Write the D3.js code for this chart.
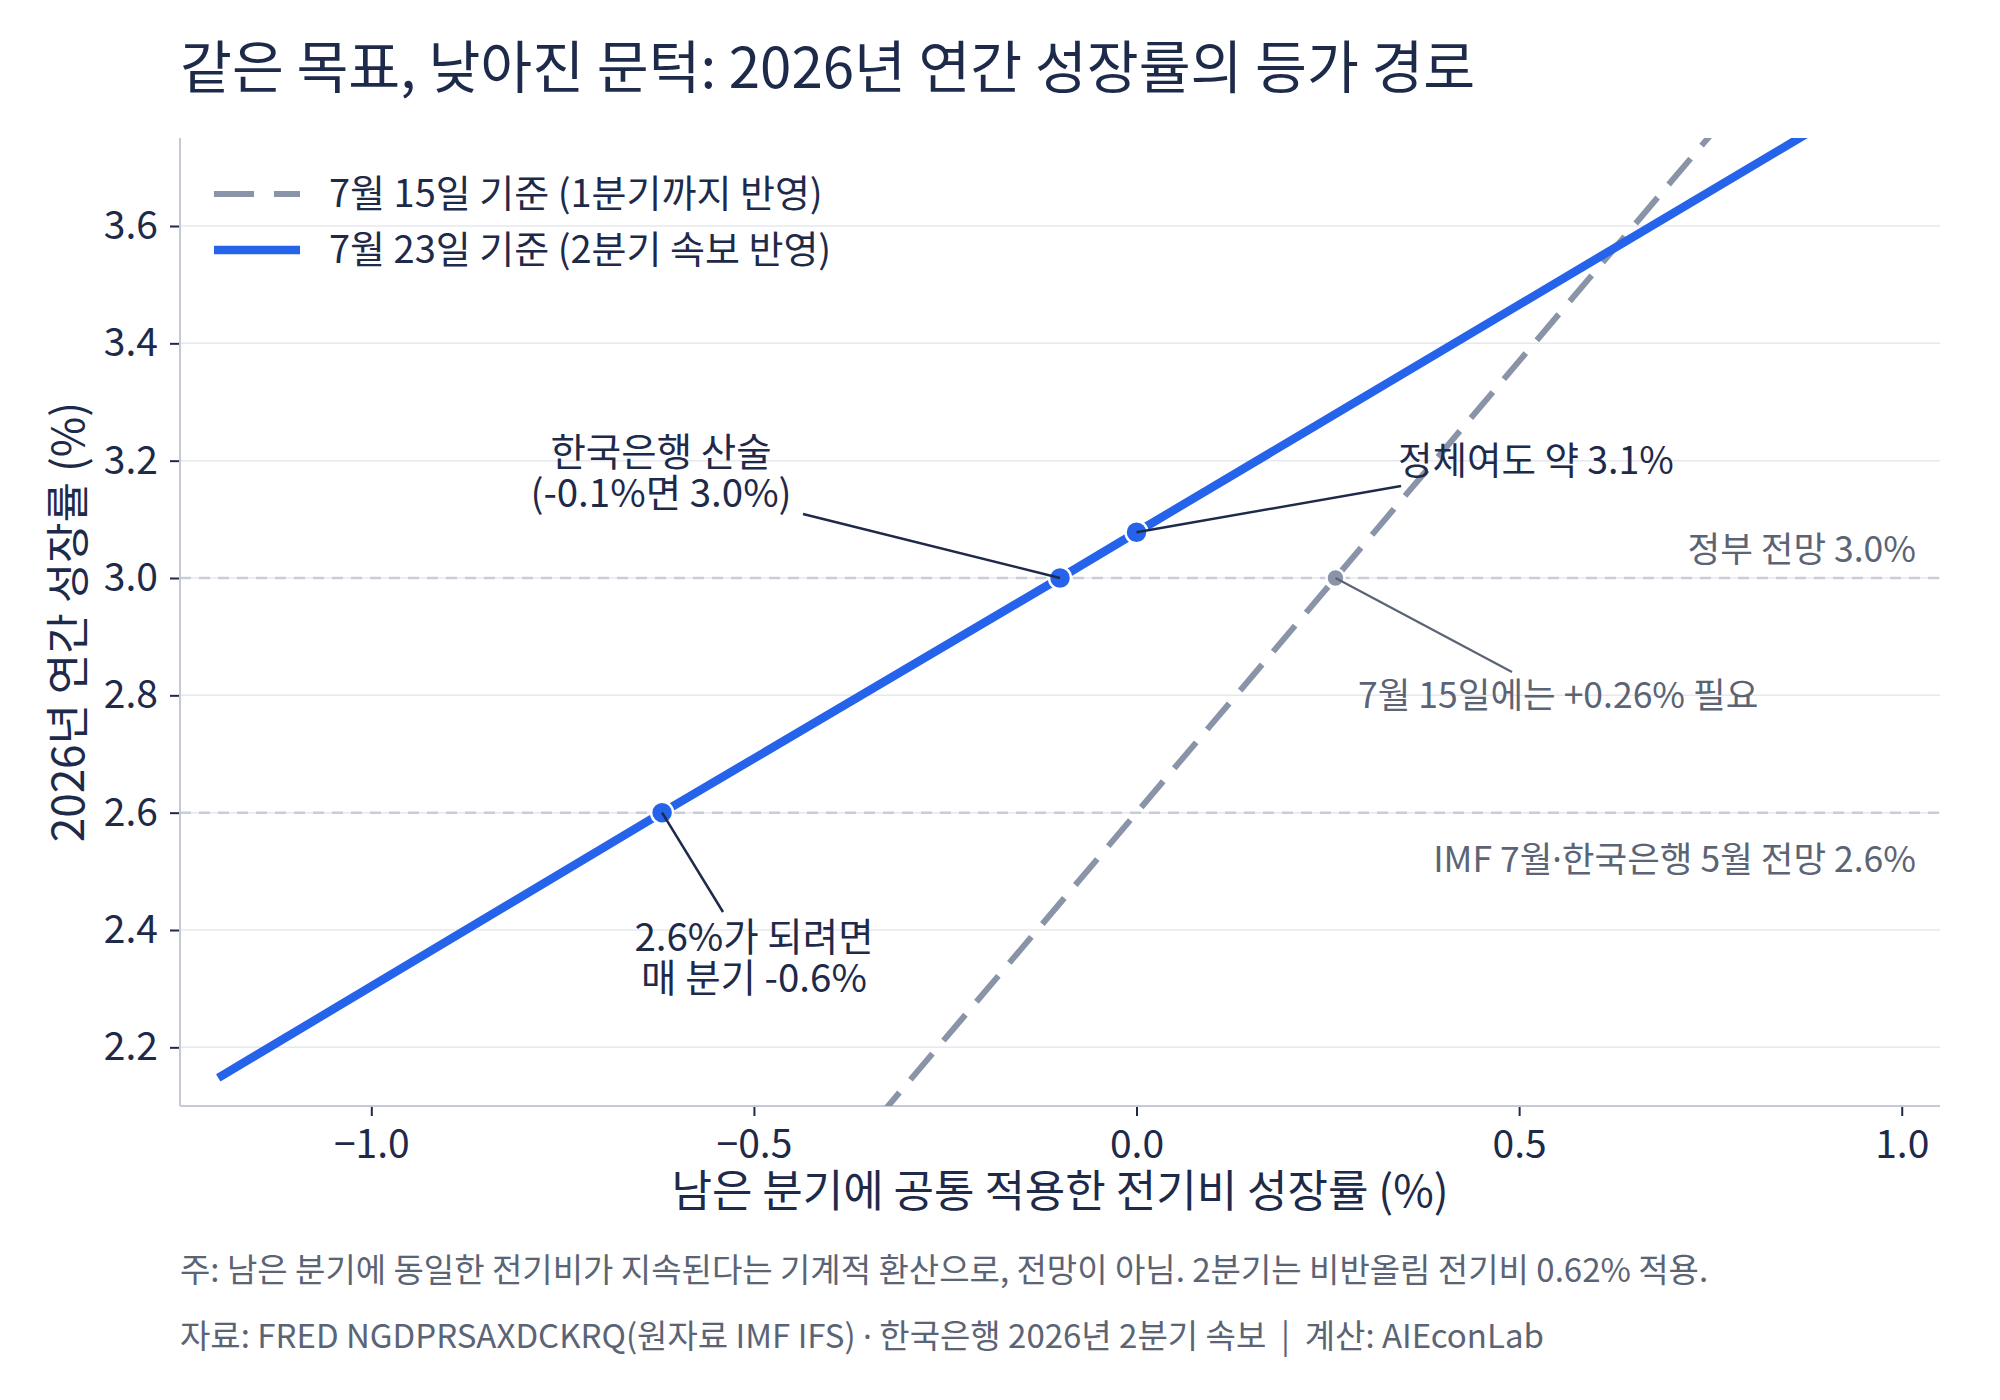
<!DOCTYPE html>
<html><head><meta charset="utf-8">
<script src="https://cdn.jsdelivr.net/npm/d3@7"></script>
<style>body{margin:0;background:#fff} text{white-space:pre}</style></head>
<body>
<svg id="c" width="2000" height="1400"></svg>
<script>
// ---- data ----
const xTicks = [-1.0, -0.5, 0.0, 0.5, 1.0];
const yTicks = [2.2, 2.4, 2.6, 2.8, 3.0, 3.2, 3.4, 3.6];
// 7월 23일 기준 (2분기 속보 반영)
const afterX = [-1.2, -0.62, -0.1, 0.0, 0.9];
const afterY = [2.148, 2.6, 3.0, 3.078, 3.776];
// 7월 15일 기준 (1분기까지 반영)
const beforeX = [-1.2, -0.324, 0.26, 0.9];
const beforeY = [0.752, 2.101, 3.0, 3.986];
// 주요 점
const keyX = [-0.62, -0.1, 0.0];
const keyY = [2.6, 3.0, 3.078];
const grayKeyX = [0.26];
const grayKeyY = [3.0];
// 기준선
const refValues = [3.0, 2.6];
const refLabels = [["정부 전망 3.0%"], ["IMF 7월", "·", "한국은행 5월 전망 2.6%"]];
const seriesLabels = ["7월 15일 기준 (1분기까지 반영)", "7월 23일 기준 (2분기 속보 반영)"];

const FONT = "'Noto Sans CJK KR', 'Noto Sans', sans-serif";
const DOTFONT = "'Noto Sans', 'DejaVu Sans', sans-serif";
const NAVY = "#1e2a4a", GRAYTXT = "#5b6475", BLUE = "#2563eb", SLATE = "#8a94a8";

const svg = d3.select("#c").style("font-family", FONT);
const L = 180, R = 1940, T = 138, B = 1106;
const x = d3.scaleLinear([-1.25, 1.05], [L, R]);
const y = d3.scaleLinear([2.1, 3.75], [B, T]);

svg.append("defs").append("clipPath").attr("id", "clip")
  .append("rect").attr("x", L).attr("y", T).attr("width", R - L).attr("height", B - T);

// grid
svg.append("g").selectAll("line").data(yTicks).join("line")
  .attr("x1", L).attr("x2", R).attr("y1", d => y(d)).attr("y2", d => y(d))
  .attr("stroke", "#e6e8ee").attr("stroke-width", 1.5);

// reference lines
svg.append("g").selectAll("line").data(refValues).join("line")
  .attr("x1", L).attr("x2", R).attr("y1", d => y(d)).attr("y2", d => y(d))
  .attr("stroke", "#c9cdd8").attr("stroke-width", 2.5).attr("stroke-dasharray", "11,8");

// axes
const yAxis = d3.axisLeft(y).tickValues(yTicks).tickFormat(d3.format(".1f")).tickSize(10).tickPadding(12);
const gy = svg.append("g").attr("transform", `translate(${L},0)`).call(yAxis);
const xAxis = d3.axisBottom(x).tickValues(xTicks).tickFormat(d => d3.format(".1f")(d).replace("-", "−")).tickSize(10).tickPadding(14);
const gx = svg.append("g").attr("transform", `translate(0,${B})`).call(xAxis);
[gx, gy].forEach(g => {
  g.select(".domain").remove();
  g.selectAll(".tick line").attr("stroke", NAVY).attr("stroke-width", 2);
  g.selectAll(".tick text").attr("fill", NAVY).style("font-size", "39px").style("font-family", FONT);
});
// spines
svg.append("line").attr("x1", L).attr("x2", L).attr("y1", T).attr("y2", B).attr("stroke", "#c5cad4").attr("stroke-width", 2);
svg.append("line").attr("x1", L).attr("x2", R).attr("y1", B).attr("y2", B).attr("stroke", "#c5cad4").attr("stroke-width", 2);

// series
const plot = svg.append("g").attr("clip-path", "url(#clip)");
const line = d3.line().x(d => x(d[0])).y(d => y(d[1]));
plot.append("path").datum(d3.zip(beforeX, beforeY)).attr("d", line)
  .attr("fill", "none").attr("stroke", SLATE).attr("stroke-width", 6).attr("stroke-dasharray", "34,17");
plot.append("path").datum(d3.zip(afterX, afterY)).attr("d", line)
  .attr("fill", "none").attr("stroke", BLUE).attr("stroke-width", 8.5).attr("stroke-linecap", "butt");

// ref labels
svg.append("g").selectAll("text").data(refValues).join("text")
  .attr("x", 1916).attr("y", (d, i) => i === 0 ? y(d) - 16 : y(d) + 59)
  .attr("text-anchor", "end").attr("fill", GRAYTXT).style("font-size", "35.5px")
  .each(function (d, i) {
    refLabels[i].forEach(s => d3.select(this).append("tspan")
      .style("font-family", s === "·" ? DOTFONT : FONT).text(s));
  });

// annotation leader lines
const ann = svg.append("g");
ann.append("line").attr("x1", 803).attr("y1", 514).attr("x2", x(keyX[1])).attr("y2", y(keyY[1])).attr("stroke", NAVY).attr("stroke-width", 2.5);
ann.append("line").attr("x1", 1401).attr("y1", 486).attr("x2", x(keyX[2])).attr("y2", y(keyY[2])).attr("stroke", NAVY).attr("stroke-width", 2.5);
ann.append("line").attr("x1", 723).attr("y1", 912).attr("x2", x(keyX[0])).attr("y2", y(keyY[0])).attr("stroke", NAVY).attr("stroke-width", 2.5);
ann.append("line").attr("x1", 1512).attr("y1", 672).attr("x2", x(grayKeyX[0])).attr("y2", y(grayKeyY[0])).attr("stroke", GRAYTXT).attr("stroke-width", 2.2);

// points
svg.append("g").selectAll("circle").data(d3.zip(keyX, keyY)).join("circle")
  .attr("cx", d => x(d[0])).attr("cy", d => y(d[1])).attr("r", 11)
  .attr("fill", BLUE).attr("stroke", "#fff").attr("stroke-width", 2.5);
svg.append("g").selectAll("circle").data(d3.zip(grayKeyX, grayKeyY)).join("circle")
  .attr("cx", d => x(d[0])).attr("cy", d => y(d[1])).attr("r", 9)
  .attr("fill", SLATE).attr("stroke", "#fff").attr("stroke-width", 2.5);
ann.raise();

// annotation texts (one text element per line)
function multi(xp, yp, lines, color, anchor, size, gap) {
  lines.forEach((s, i) => svg.append("text").attr("x", xp).attr("y", yp + i * gap)
    .attr("text-anchor", anchor).attr("fill", color).style("font-size", size + "px").text(s));
}
multi(661, 466, ["한국은행 산술", "(-0.1%면 3.0%)"], NAVY, "middle", 38.5, 41);
multi(1398, 474, ["정체여도 약 3.1%"], NAVY, "start", 37.5, 0);
multi(1358, 708, ["7월 15일에는 +0.26% 필요"], GRAYTXT, "start", 35.5, 0);
multi(754, 951, ["2.6%가 되려면", "매 분기 -0.6%"], NAVY, "middle", 38.5, 41);

// legend
const lg = svg.append("g");
lg.append("line").attr("x1", 214).attr("x2", 300).attr("y1", 194).attr("y2", 194)
  .attr("stroke", SLATE).attr("stroke-width", 6).attr("stroke-dasharray", "40,20");
lg.append("line").attr("x1", 214).attr("x2", 300).attr("y1", 250).attr("y2", 250)
  .attr("stroke", BLUE).attr("stroke-width", 8.5);
lg.selectAll("text").data(seriesLabels).join("text")
  .attr("x", 329).attr("y", (d, i) => 194 + i * 56).attr("dy", "0.35em")
  .attr("fill", NAVY).style("font-size", "38px").text(d => d);

// title
svg.append("text").attr("x", 180).attr("y", 88).attr("fill", NAVY).style("font-size", "56.4px")
  .text("같은 목표, 낮아진 문턱: 2026년 연간 성장률의 등가 경로");
// axis labels
svg.append("text").attr("x", (L + R) / 2).attr("y", 1207).attr("text-anchor", "middle")
  .attr("fill", NAVY).style("font-size", "44px").text("남은 분기에 공통 적용한 전기비 성장률 (%)");
svg.append("text").attr("transform", `translate(84,${(T + B) / 2}) rotate(-90)`).attr("text-anchor", "middle")
  .attr("fill", NAVY).style("font-size", "44px").text("2026년 연간 성장률 (%)");
// footer
svg.append("text").attr("x", 180).attr("y", 1282).attr("fill", GRAYTXT).style("font-size", "33px")
  .text("주: 남은 분기에 동일한 전기비가 지속된다는 기계적 환산으로, 전망이 아님. 2분기는 비반올림 전기비 0.62% 적용.");
const f2 = svg.append("text").attr("x", 180).attr("y", 1348).attr("fill", GRAYTXT).style("font-size", "33px");
f2.append("tspan").text("자료: FRED NGDPRSAXDCKRQ(원자료 IMF IFS) ");
f2.append("tspan").style("font-family", DOTFONT).text("·");
f2.append("tspan").text(" 한국은행 2026년 2분기 속보  |  계산: AIEconLab");
</script>
</body></html>
